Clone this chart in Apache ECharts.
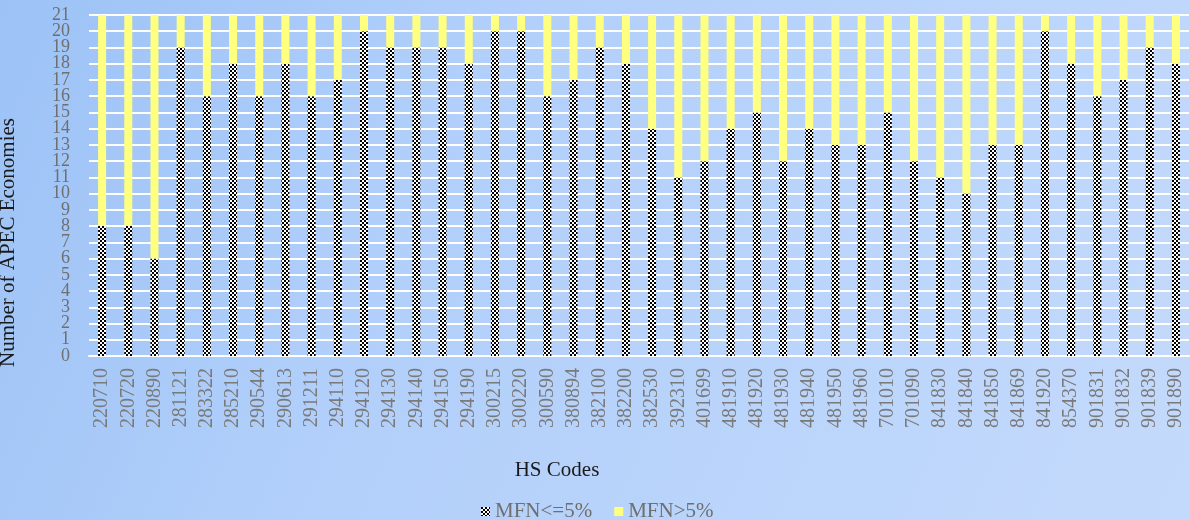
<!DOCTYPE html>
<html>
<head>
<meta charset="utf-8">
<script src="https://cdn.jsdelivr.net/npm/echarts@6/dist/echarts.min.js"></script>
<style>
  html, body { margin: 0; padding: 0; }
  #chart { width: 1190px; height: 520px; }
</style>
</head>
<body>
<div id="chart"></div>
<script>
const hsCodes = [
  '220710', '220720', '220890', '281121', '283322', '285210', '290544', '290613',
  '291211', '294110', '294120', '294130', '294140', '294150', '294190', '300215',
  '300220', '300590', '380894', '382100', '382200', '382530', '392310', '401699',
  '481910', '481920', '481930', '481940', '481950', '481960', '701010', '701090',
  '841830', '841840', '841850', '841869', '841920', '854370', '901831', '901832',
  '901839', '901890'
]
// number of economies with MFN <= 5%
const mfnLow = [
  8, 8, 6, 19, 16, 18, 16, 18,
  16, 17, 20, 19, 19, 19, 18, 20,
  20, 16, 17, 19, 18, 14, 11, 12,
  14, 15, 12, 14, 13, 13, 15, 12,
  11, 10, 13, 13, 20, 18, 16, 17,
  19, 18
]
// number of economies with MFN > 5%
const mfnHigh = [
  13, 13, 15, 2, 5, 3, 5, 3,
  5, 4, 1, 2, 2, 2, 3, 1,
  1, 5, 4, 2, 3, 7, 10, 9,
  7, 6, 9, 7, 8, 8, 6, 9,
  10, 11, 8, 8, 1, 3, 5, 4,
  2, 3
]
// labels that echarts drops next to the forced min/max ones, drawn by a twin axis
const extraYLabels = [1, 20]

// small black/white checker tile for the lower series
function checker() {
  const c = document.createElement('canvas')
  c.width = 4
  c.height = 4
  const ctx = c.getContext('2d')
  ctx.fillStyle = '#ffffff'
  ctx.fillRect(0, 0, 4, 4)
  ctx.fillStyle = '#000000'
  ctx.fillRect(0, 0, 2, 2)
  ctx.fillRect(2, 2, 2, 2)
  return c
}
const checkerFill = { image: checker(), repeat: 'repeat' }
const serif = '"Liberation Serif", "DejaVu Serif", serif'
const yLabelStyle = { fontFamily: serif, fontSize: 18, color: '#6f6f6f', margin: 19 }

const chart = echarts.init(document.getElementById('chart'))
chart.setOption({
  animation: false,
  backgroundColor: {
    type: 'linear',
    x: 0, y: 0, x2: 1, y2: 1,
    colorStops: [
      { offset: 0, color: '#9cc2f6' },
      { offset: 0.35, color: '#b1cffa' },
      { offset: 1, color: '#c4dafc' }
    ]
  },
  title: {
    text: 'HS Codes',
    left: 552,
    top: 455,
    textAlign: 'center',
    textStyle: { fontFamily: serif, fontSize: 21, fontWeight: 'normal', color: '#1a1a1a' }
  },
  legend: {
    top: 496,
    left: 476,
    itemWidth: 9,
    itemHeight: 9,
    itemGap: 22,
    icon: 'rect',
    textStyle: { fontFamily: serif, fontSize: 21, color: '#6f6f6f' },
    data: ['MFN<=5%', 'MFN>5%']
  },
  grid: {
    left: 89,
    right: 1,
    top: 15,
    bottom: 164,
    outerBoundsMode: 'none'
  },
  xAxis: {
    type: 'category',
    data: hsCodes,
    axisLine: { lineStyle: { color: '#ffffff', width: 2 } },
    axisTick: { show: false },
    axisLabel: {
      interval: 0,
      rotate: 90,
      margin: 12,
      fontFamily: serif,
      fontSize: 20,
      color: '#7a7a7a'
    }
  },
  yAxis: [
    {
      type: 'value',
      min: 0,
      max: 21,
      interval: 1,
      name: 'Number of APEC Economies',
      nameLocation: 'middle',
      nameRotate: 90,
      nameGap: 70,
      nameTextStyle: { fontFamily: serif, fontSize: 21, color: '#1a1a1a', padding: [0, 114, 0, 0] },
      axisLine: { show: false },
      axisTick: { show: false },
      axisLabel: Object.assign({ showMinLabel: true, showMaxLabel: true }, yLabelStyle),
      splitLine: { lineStyle: { color: '#ffffff', width: 2 } }
    },
    {
      type: 'value',
      position: 'left',
      min: 0,
      max: 21,
      interval: 1,
      axisLine: { show: false },
      axisTick: { show: false },
      splitLine: { show: false },
      axisLabel: Object.assign({
        showMinLabel: false,
        showMaxLabel: false,
        formatter: v => (extraYLabels.indexOf(v) >= 0 ? String(v) : '')
      }, yLabelStyle)
    }
  ],
  series: [
    {
      name: 'MFN<=5%',
      type: 'bar',
      stack: 'total',
      barWidth: 8,
      data: mfnLow,
      itemStyle: { color: checkerFill }
    },
    {
      name: 'MFN>5%',
      type: 'bar',
      stack: 'total',
      barWidth: 8,
      data: mfnHigh,
      itemStyle: { color: '#ffff80' }
    }
  ]
})
</script>
</body>
</html>
